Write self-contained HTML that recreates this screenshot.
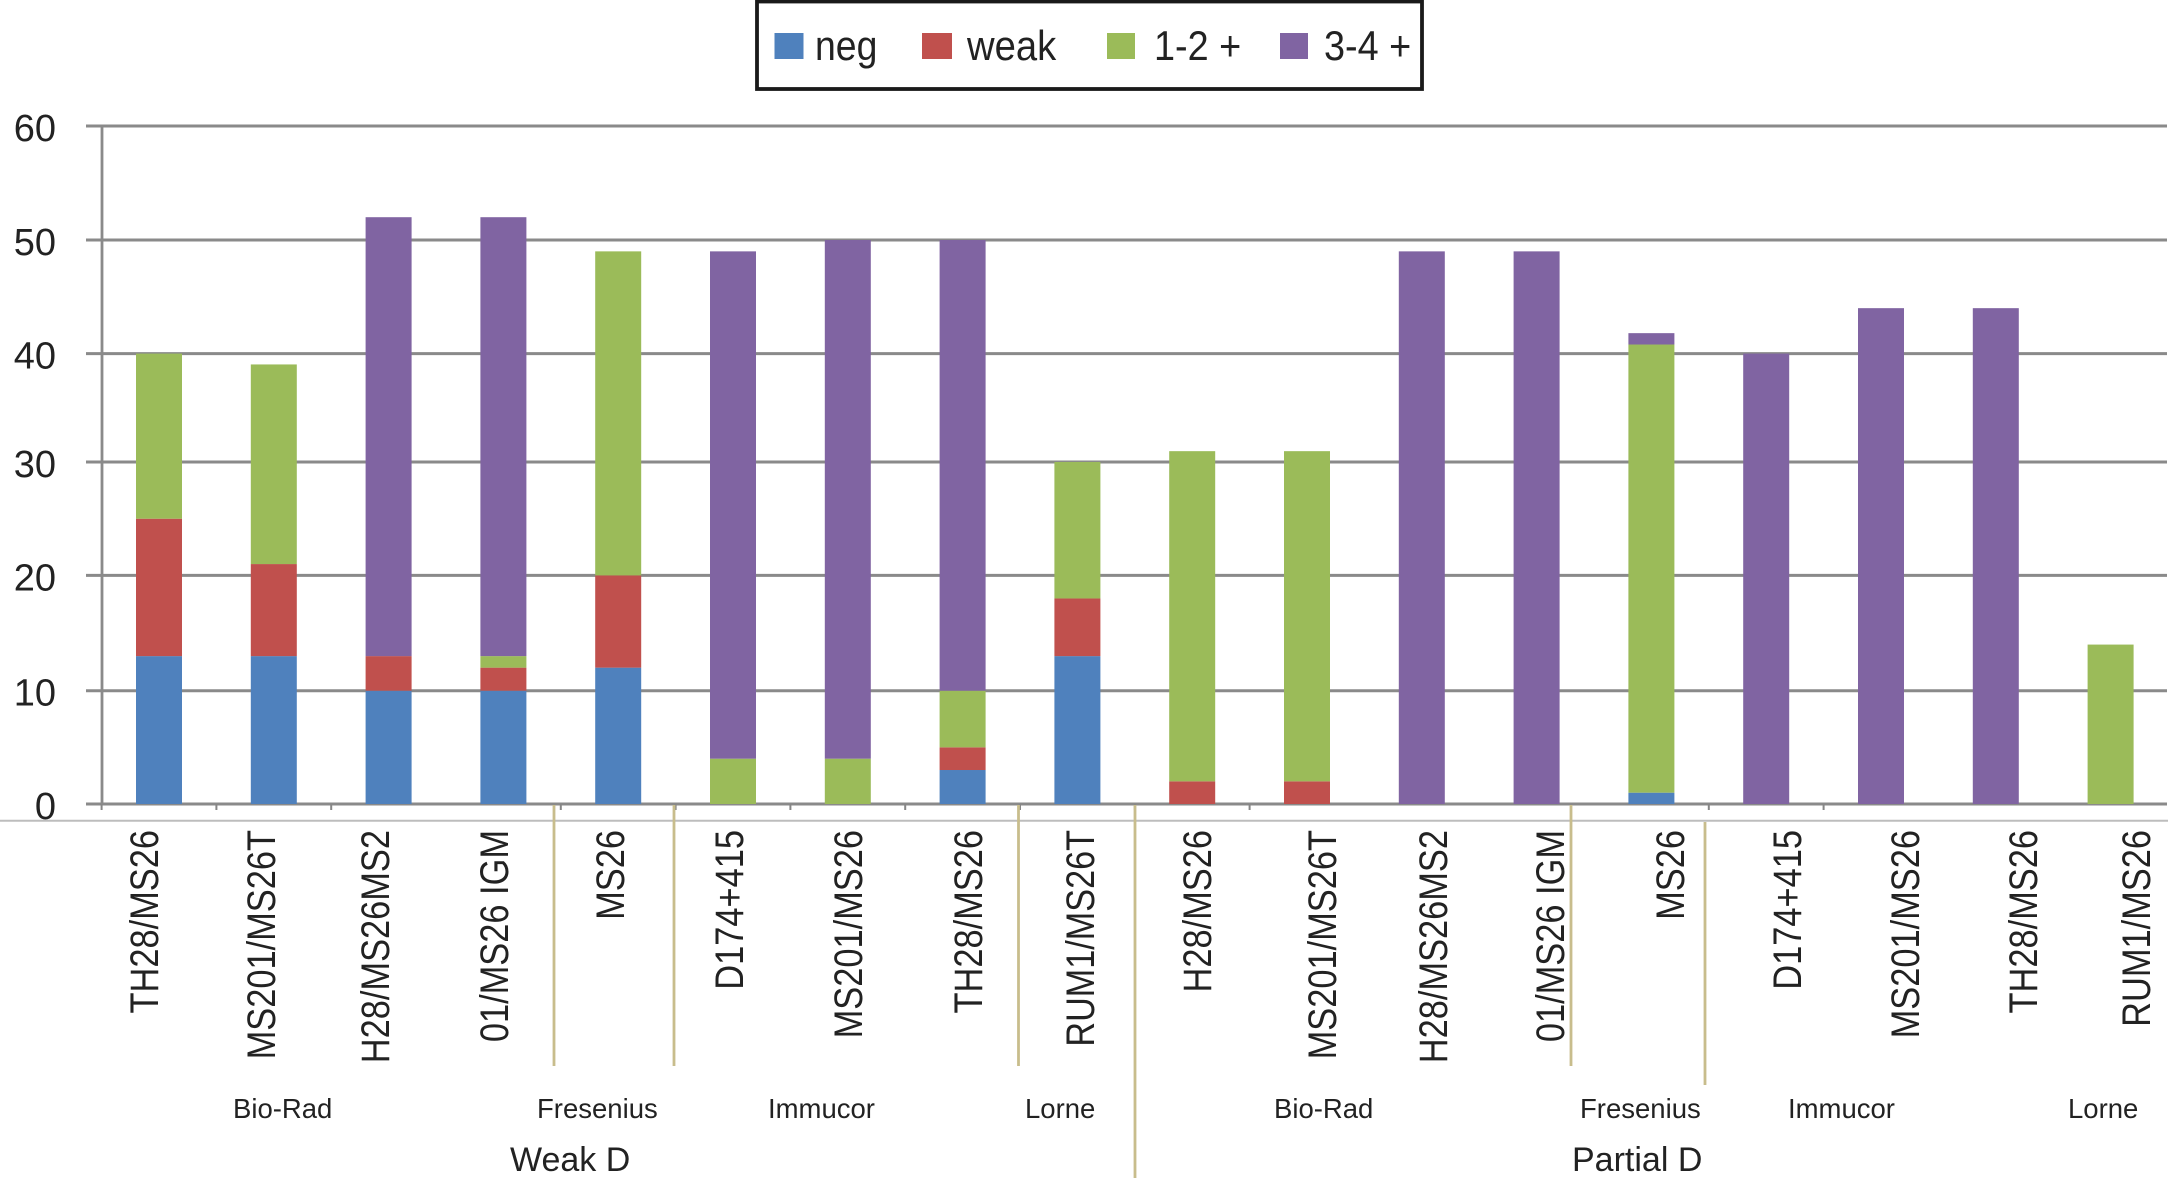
<!DOCTYPE html>
<html>
<head>
<meta charset="utf-8">
<title>Weak D and Partial D reagent reactivity</title>
<style>
html,body{margin:0;padding:0;background:#fff;width:2168px;height:1180px;overflow:hidden}
svg{display:block}
text{font-family:"Liberation Sans",sans-serif;fill:#222}
.cat{font-size:40px;text-anchor:end}
.grp{font-size:27.5px}
.big{font-size:34px}
.leg{font-size:42px}
.ytick{font-size:38px;text-anchor:end}
</style>
</head>
<body>
<svg id="chart" xmlns="http://www.w3.org/2000/svg" width="2168" height="1180" viewBox="0 0 2168 1180">
  <rect x="0" y="0" width="2168" height="1180" fill="#ffffff"/>
  <g id="grid"></g>
  <line x1="102" y1="126" x2="102" y2="804" stroke="#8a8a8a" stroke-width="2.8"/>
  <g id="bars"></g>
  <g id="xticks"></g>
  <line x1="0" y1="820.7" x2="2168" y2="820.7" stroke="#bdbdbd" stroke-width="2"/>

  <g stroke="#c8bd8c" stroke-width="2.8">
    <line x1="554" y1="805" x2="554" y2="1066"/>
    <line x1="674" y1="805" x2="674" y2="1066"/>
    <line x1="1018.5" y1="805" x2="1018.5" y2="1066"/>
    <line x1="1135" y1="805" x2="1135" y2="1178"/>
    <line x1="1571" y1="805" x2="1571" y2="1066"/>
    <line x1="1705" y1="822" x2="1705" y2="1085"/>
  </g>

  <g>
    <text class="cat" transform="translate(158,830) rotate(-90) scale(.86,1)">TH28/MS26</text>
    <text class="cat" transform="translate(275,830) rotate(-90) scale(.86,1)">MS201/MS26T</text>
    <text class="cat" transform="translate(389,830) rotate(-90) scale(.86,1)">H28/MS26MS2</text>
    <text class="cat" transform="translate(508,830) rotate(-90) scale(.86,1)">01/MS26 IGM</text>
    <text class="cat" transform="translate(624,830) rotate(-90) scale(.86,1)">MS26</text>
    <text class="cat" transform="translate(743,830) rotate(-90) scale(.86,1)">D174+415</text>
    <text class="cat" transform="translate(862,830) rotate(-90) scale(.86,1)">MS201/MS26</text>
    <text class="cat" transform="translate(982,830) rotate(-90) scale(.86,1)">TH28/MS26</text>
    <text class="cat" transform="translate(1094,830) rotate(-90) scale(.855,1)">RUM1/MS26T</text>
    <text class="cat" transform="translate(1211,830) rotate(-90) scale(.86,1)">H28/MS26</text>
    <text class="cat" transform="translate(1336,830) rotate(-90) scale(.86,1)">MS201/MS26T</text>
    <text class="cat" transform="translate(1447,830) rotate(-90) scale(.86,1)">H28/MS26MS2</text>
    <text class="cat" transform="translate(1564,830) rotate(-90) scale(.86,1)">01/MS26 IGM</text>
    <text class="cat" transform="translate(1684,830) rotate(-90) scale(.86,1)">MS26</text>
    <text class="cat" transform="translate(1801,830) rotate(-90) scale(.86,1)">D174+415</text>
    <text class="cat" transform="translate(1919,830) rotate(-90) scale(.86,1)">MS201/MS26</text>
    <text class="cat" transform="translate(2037,830) rotate(-90) scale(.86,1)">TH28/MS26</text>
    <text class="cat" transform="translate(2150,830) rotate(-90) scale(.86,1)">RUM1/MS26</text>
  </g>

  <g>
    <text class="grp" x="233" y="1118">Bio-Rad</text>
    <text class="grp" x="537" y="1118">Fresenius</text>
    <text class="grp" x="768" y="1118">Immucor</text>
    <text class="grp" x="1025" y="1118">Lorne</text>
    <text class="grp" x="1274" y="1118">Bio-Rad</text>
    <text class="grp" x="1580" y="1118">Fresenius</text>
    <text class="grp" x="1788" y="1118">Immucor</text>
    <text class="grp" x="2068" y="1118">Lorne</text>
  </g>
  <text class="big" x="510" y="1171">Weak D</text>
  <text class="big" x="1572" y="1171">Partial D</text>

  <g>
    <rect x="757" y="1.5" width="665" height="87.5" fill="#ffffff" stroke="#1a1a1a" stroke-width="3.8"/>
    <rect x="774.5" y="33" width="29" height="26" fill="#4f81bd"/>
    <text class="leg" transform="translate(815,60) scale(.89,1)">neg</text>
    <rect x="922" y="33" width="30" height="26" fill="#c0504d"/>
    <text class="leg" transform="translate(967,60) scale(.91,1)">weak</text>
    <rect x="1107" y="33" width="28" height="26" fill="#9bbb59"/>
    <text class="leg" transform="translate(1154,60) scale(.9,1)">1-2 +</text>
    <rect x="1280" y="33" width="28" height="26" fill="#8064a2"/>
    <text class="leg" transform="translate(1324,60) scale(.9,1)">3-4 +</text>
  </g>
</svg>
<script>
const categories = ["TH28/MS26","MS201/MS26T","H28/MS26MS2","01/MS26 IGM","MS26","D174+415","MS201/MS26","TH28/MS26","RUM1/MS26T","H28/MS26","MS201/MS26T","H28/MS26MS2","01/MS26 IGM","MS26","D174+415","MS201/MS26","TH28/MS26","RUM1/MS26"];
const negValues = [13,13,10,10,12,0,0,3,13,0,0,0,0,1,0,0,0,0];
const weakValues = [12,8,3,2,8,0,0,2,5,2,2,0,0,0,0,0,0,0];
const onePlusValues = [15,18,0,1,29,4,4,5,12,29,29,0,0,39.8,0,0,0,14];
const threePlusValues = [0,0,39,39,0,45,46,40,0,0,0,49,49,1,40,44,44,0];
const yTicks = [0,10,20,30,40,50,60];

const NS = 'http://www.w3.org/2000/svg';
const plotLeft = 101.6, bandWidth = 114.8, barWidth = 46;
function xBand(i){ return plotLeft + bandWidth * i; }
function xCenter(i){ return xBand(i) + bandWidth / 2; }
/* The source figure's axis is slightly uneven, so the scale is piecewise linear per decade. */
function yScale(v){
  const stops = [804, 690.7, 575.4, 462, 353.6, 240, 126];
  const clamped = Math.max(0, Math.min(v, 59.999));
  const k = Math.floor(clamped / 10);
  return stops[k] + (stops[k + 1] - stops[k]) * (v - k * 10) / 10;
}

const grid = document.getElementById('grid');
yTicks.forEach(function(t){
  const y = yScale(t);
  const line = document.createElementNS(NS, 'line');
  
  
  line.setAttribute('x1', 86);
  line.setAttribute('x2', 2167);
  line.setAttribute('y1', y);
  line.setAttribute('y2', y);
  line.setAttribute('stroke', '#8a8a8a');
  line.setAttribute('stroke-width', 3);
  grid.appendChild(line);
  const label = document.createElementNS(NS, 'text');
  
  
  label.setAttribute('class', 'ytick');
  label.setAttribute('x', 56);
  label.setAttribute('y', y + 15);
  label.textContent = String(t);
  grid.appendChild(label);
});

const xticks = document.getElementById('xticks');
categories.forEach(function(c, i){
  if (i === 3 || (i >= 11 && i <= 13) || i >= 16) { return; }
  const tick = document.createElementNS(NS, 'line');
  
  
  tick.setAttribute('x1', xBand(i));
  tick.setAttribute('x2', xBand(i));
  tick.setAttribute('y1', yScale(0));
  tick.setAttribute('y2', yScale(0) + 6);
  tick.setAttribute('stroke', '#868686');
  tick.setAttribute('stroke-width', 2);
  xticks.appendChild(tick);
});

const seriesList = [
  {key:'neg', values:negValues, color:'#4f81bd'},
  {key:'weak', values:weakValues, color:'#c0504d'},
  {key:'1-2', values:onePlusValues, color:'#9bbb59'},
  {key:'3-4', values:threePlusValues, color:'#8064a2'}
];
const bars = document.getElementById('bars');
categories.forEach(function(c, i){
  let cum = 0;
  seriesList.forEach(function(s){
    const v = s.values[i];
    if (v > 0) {
      const rect = document.createElementNS(NS, 'rect');
      
      
      rect.setAttribute('x', xCenter(i) - barWidth / 2);
      rect.setAttribute('y', yScale(cum + v));
      rect.setAttribute('width', barWidth);
      rect.setAttribute('height', yScale(cum) - yScale(cum + v));
      rect.setAttribute('fill', s.color);
      bars.appendChild(rect);
    }
    cum += v;
  });
});
</script>
</body>
</html>
